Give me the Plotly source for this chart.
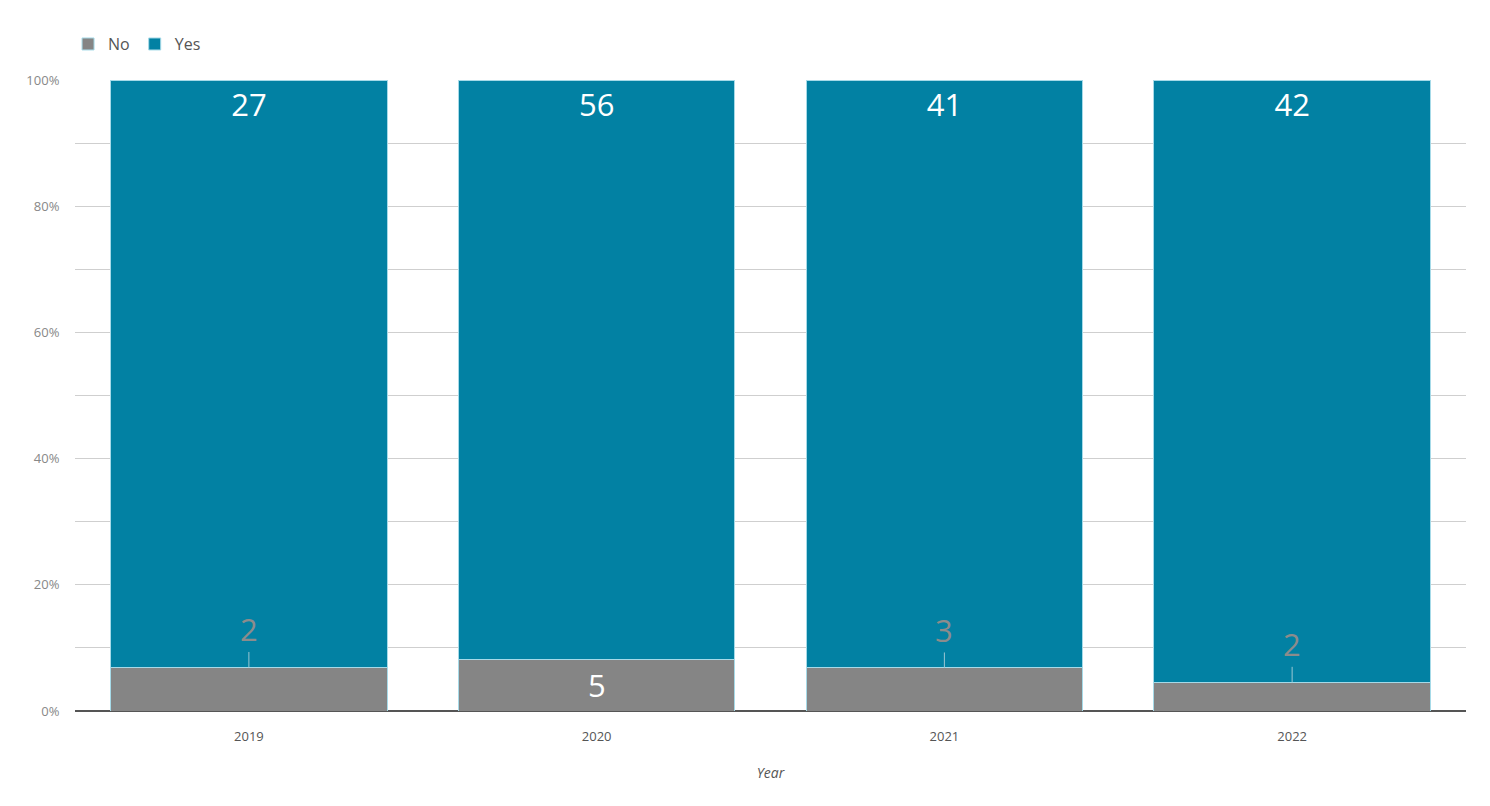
import plotly.graph_objects as go

years = ["2019", "2020", "2021", "2022"]
no_counts = [2, 5, 3, 2]
yes_counts = [27, 56, 41, 42]

totals = [n + y for n, y in zip(no_counts, yes_counts)]
no_pct = [n / t for n, t in zip(no_counts, totals)]
yes_pct = [y / t for y, t in zip(yes_counts, totals)]

TEAL = "#0281a3"
GRAY = "#858585"
EDGE = "#a6dae8"
FONT = "Open Sans"

fig = go.Figure()
fig.add_trace(go.Bar(
    x=years, y=no_pct, name="No",
    marker=dict(color=GRAY, line=dict(color=EDGE, width=1)),
    hoverinfo="skip",
))
fig.add_trace(go.Bar(
    x=years, y=yes_pct, name="Yes",
    marker=dict(color=TEAL, line=dict(color=EDGE, width=1)),
    text=[str(v) for v in yes_counts],
    textposition="inside", insidetextanchor="end",
    textfont=dict(color="white", size=31, family=FONT),
    hoverinfo="skip",
))

for i, (n, p) in enumerate(zip(no_counts, no_pct)):
    if p >= 0.08:
        fig.add_annotation(x=i, y=p / 2, text=str(n), showarrow=False,
                           font=dict(color="white", size=31, family=FONT))
    else:
        fig.add_annotation(x=i, y=p, text=str(n), showarrow=True,
                           arrowhead=0, arrowwidth=1, arrowcolor="#9cc7d3",
                           ax=0, ay=-38,
                           font=dict(color="#8c8c8c", size=31, family=FONT))

fig.update_layout(
    barmode="stack",
    bargap=0.205,
    width=1490, height=806,
    margin=dict(l=75, r=24, t=80, b=95),
    paper_bgcolor="white", plot_bgcolor="white",
    font=dict(family=FONT, color="#666666", size=13),
    legend=dict(orientation="h", x=-0.005, xanchor="left", y=1.03, yanchor="bottom",
                font=dict(size=16, color="#555555"), traceorder="normal"),
    xaxis=dict(type="category", range=[-0.5, len(years) - 0.5],
               title=dict(text="<i>Year</i>", font=dict(size=14, color="#555555"), standoff=24),
               showgrid=False, tickfont=dict(size=13, color="#555555"),
               ticks="outside", ticklen=13, tickcolor="rgba(0,0,0,0)",
               showline=False),
    yaxis=dict(range=[0, 1], tickvals=[0, 0.2, 0.4, 0.6, 0.8, 1.0], tickformat=".0%",
               showgrid=True, gridcolor="#cfcfcf", gridwidth=1,
               minor=dict(dtick=0.1, showgrid=True, gridcolor="#cfcfcf", gridwidth=1),
               zeroline=True, zerolinecolor="#555555", zerolinewidth=1.5,
               tickfont=dict(size=13, color="#888888"),
               ticks="outside", ticklen=12, tickcolor="rgba(0,0,0,0)"),
)

fig.write_html("out.html")
